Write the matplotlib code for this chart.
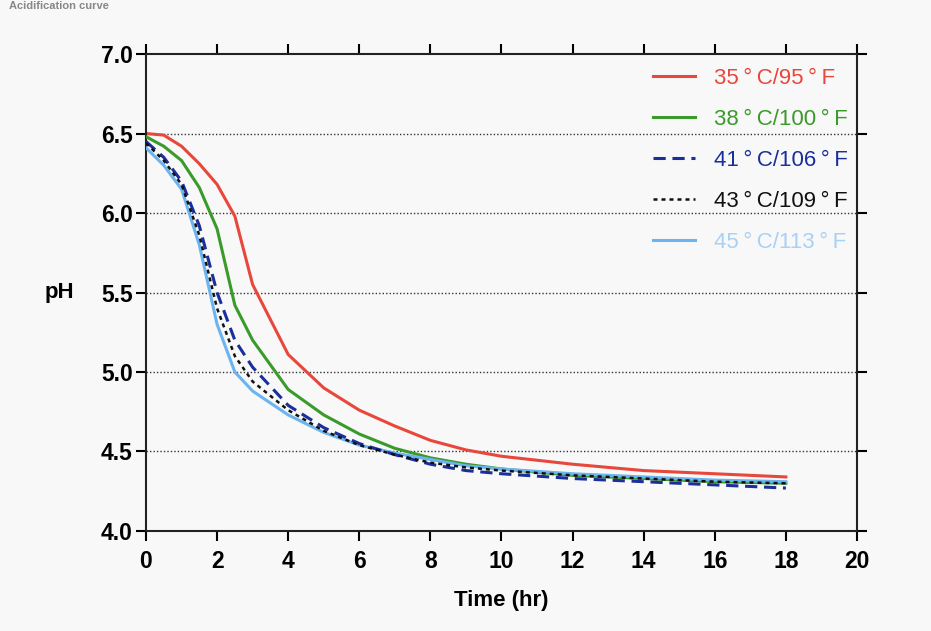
import numpy as np
import matplotlib.pyplot as plt

# time points (hr)
time = [0, 0.5, 1, 1.5, 2, 2.5, 3, 4, 5, 6, 7, 8, 9, 10, 12, 14, 16, 18]

ph_35 = [6.50, 6.49, 6.42, 6.31, 6.18, 5.98, 5.55, 5.11, 4.90, 4.76, 4.66, 4.57, 4.51, 4.47, 4.42, 4.38, 4.36, 4.34]
ph_38 = [6.48, 6.42, 6.33, 6.16, 5.90, 5.42, 5.20, 4.89, 4.73, 4.61, 4.52, 4.46, 4.42, 4.39, 4.35, 4.33, 4.31, 4.30]
ph_41 = [6.45, 6.35, 6.20, 5.92, 5.50, 5.20, 5.03, 4.79, 4.65, 4.55, 4.48, 4.42, 4.38, 4.36, 4.33, 4.31, 4.29, 4.27]
ph_43 = [6.44, 6.33, 6.18, 5.86, 5.40, 5.10, 4.94, 4.76, 4.63, 4.54, 4.48, 4.43, 4.40, 4.38, 4.35, 4.33, 4.31, 4.30]
ph_45 = [6.41, 6.30, 6.15, 5.80, 5.30, 5.00, 4.88, 4.73, 4.62, 4.54, 4.49, 4.45, 4.41, 4.39, 4.36, 4.34, 4.32, 4.31]

labels = ['35\u2009°\u2009C/95\u2009°\u2009F', '38\u2009°\u2009C/100\u2009°\u2009F',
          '41\u2009°\u2009C/106\u2009°\u2009F', '43\u2009°\u2009C/109\u2009°\u2009F',
          '45\u2009°\u2009C/113\u2009°\u2009F']
colors = ['#e8473c', '#3a9a2a', '#1a2f9a', '#111111', '#6cb4f0']
text_colors = ['#e8473c', '#3a9a2a', '#1a2f9a', '#111111', '#a9d0f5']

plt.rcParams['font.family'] = ['Liberation Sans', 'DejaVu Sans']

fig = plt.figure(figsize=(9.31, 6.31), dpi=100, facecolor='#f8f8f8')
ax = fig.add_axes([0.1568, 0.1585, 0.7637, 0.7559])
ax.set_facecolor('#f8f8f8')

for y in [4.5, 5.0, 5.5, 6.0, 6.5]:
    ax.axhline(y, color='#333333', lw=1.0, ls=(0, (1, 1.5)), zorder=1)

series = [ph_35, ph_38, ph_41, ph_43, ph_45]
styles = ['-', '-', (0, (4, 2.2)), (0, (1.6, 1.6)), '-']
widths = [2.2, 2.2, 2.2, 1.8, 2.2]
order = [2, 3, 5, 6, 4]
for vals, lab, c, ls, lw, z in zip(series, labels, colors, styles, widths, order):
    ax.plot(time, vals, color=c, ls=ls, lw=lw, label=lab, zorder=z)

ax.set_xlim(0, 20)
ax.set_ylim(4.0, 7.0)
ax.set_xticks(np.arange(0, 21, 2))
ax.set_yticks(np.arange(4.0, 7.01, 0.5))
ax.set_yticklabels([f'{v:.1f}' for v in np.arange(4.0, 7.01, 0.5)])

for s in ax.spines.values():
    s.set_linewidth(1.5)
    s.set_color('#222222')
ax.tick_params(axis='both', which='both', direction='out', length=7, width=1.5,
               labelsize=16.5, top=True, right=True)
ax.tick_params(axis='x', pad=7)
ax.tick_params(axis='y', pad=2.5)
for lbl in ax.get_xticklabels() + ax.get_yticklabels():
    lbl.set_fontweight('bold')

ax.set_xlabel('Time (hr)', fontsize=16, fontweight='bold', labelpad=12)
ax.set_ylabel('pH', fontsize=16, fontweight='bold', rotation=0, labelpad=30, va='center')

leg = ax.legend(loc='upper right', bbox_to_anchor=(1.0, 0.9895), frameon=False,
                fontsize=16, handlelength=1.9, labelspacing=0.9,
                borderaxespad=0.0, handletextpad=0.85)
for t, c in zip(leg.get_texts(), text_colors):
    t.set_color(c)

fig.text(0.01, 0.999, 'Acidification curve', fontsize=8, fontweight='bold',
         color='#888888', va='top')

fig.savefig('out.png', dpi=100, facecolor=fig.get_facecolor())
